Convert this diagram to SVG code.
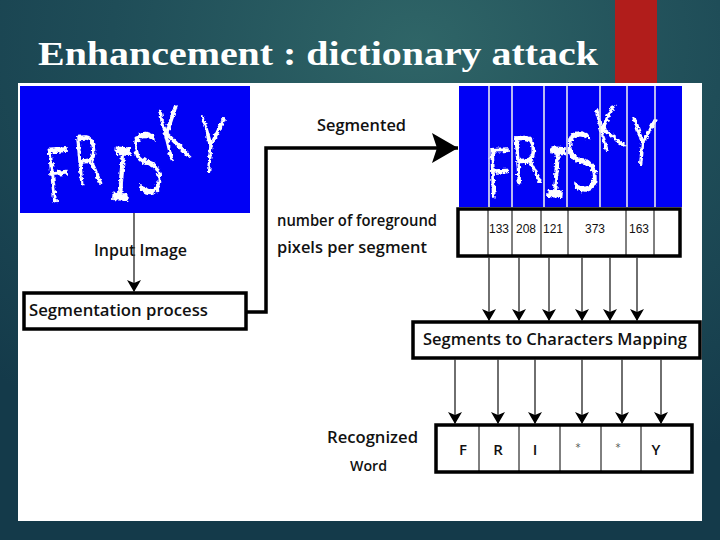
<svg xmlns="http://www.w3.org/2000/svg" width="720" height="540" viewBox="0 0 720 540">
  <defs>
    <radialGradient id="bg" cx="0.58" cy="0.08" r="0.85">
      <stop offset="0" stop-color="#2f6567"/>
      <stop offset="0.5" stop-color="#1f4d58"/>
      <stop offset="1" stop-color="#143a4a"/>
    </radialGradient>
    <filter id="rough" x="-10%" y="-10%" width="120%" height="120%">
      <feTurbulence type="fractalNoise" baseFrequency="0.3" numOctaves="2" seed="3" result="n"/>
      <feDisplacementMap in="SourceGraphic" in2="n" scale="5" xChannelSelector="R" yChannelSelector="G"/>
    </filter>
    <marker id="ah" viewBox="0 0 12 14" refX="12" refY="7" markerWidth="12" markerHeight="14" markerUnits="userSpaceOnUse" orient="auto">
      <path d="M0,0 L12,7 L0,14 L3,7 Z" fill="#000"/>
    </marker>
    <marker id="ahBig" viewBox="0 0 26 30" refX="26" refY="15" markerWidth="26" markerHeight="30" markerUnits="userSpaceOnUse" orient="auto">
      <path d="M0,0 L26,15 L0,30 L5,15 Z" fill="#000"/>
    </marker>
    <style>
      .lbl { font-family: "Open Sans", "DejaVu Sans", sans-serif; font-weight: 600; fill: #111; }
      .num { font-family: "Liberation Sans Narrow", "Liberation Sans", sans-serif; font-size: 12px; fill: #111; }
      .chr { font-family: "Open Sans", "DejaVu Sans", sans-serif; font-weight: 600; font-size: 15px; fill: #111; }
      .ast { font-family: "DejaVu Sans", sans-serif; font-size: 10px; fill: #555; }
      .box { fill: #fff; stroke: #000; stroke-width: 3.5; }
      .div { stroke: #000; stroke-width: 1; }
      .seg { stroke: #e8e8f0; stroke-width: 1.6; }
      .thin { stroke: #333; stroke-width: 1.4; fill: none; marker-end: url(#ah); }
      .cap { font-family: "DejaVu Sans", sans-serif; font-weight: 200; font-size: 80px; fill: #fff; stroke: #fff; stroke-width: 2.2; }
      .capi { font-family: "Liberation Mono", monospace; font-weight: 400; font-size: 80px; fill: #fff; stroke: #fff; stroke-width: 1.5; }
    </style>
  </defs>

  <rect x="0" y="0" width="720" height="540" fill="url(#bg)"/>
  <rect x="615" y="0" width="42" height="90" fill="#b11d1b"/>
  <text x="38" y="65" font-family="Liberation Serif, serif" font-weight="bold" font-size="33" fill="#fff" textLength="560" lengthAdjust="spacingAndGlyphs">Enhancement : dictionary attack</text>

  <rect x="18" y="83" width="684" height="438" fill="#fff"/>

  <g id="input-image">
    <rect x="20" y="86" width="230" height="127" fill="#0000f5"/>
    <g filter="url(#rough)">
      <text class="cap" transform="translate(48,202) rotate(-6) scale(0.6,0.89)">F</text>
      <text class="cap" transform="translate(76,185) rotate(-5) scale(0.5,0.82)">R</text>
      <text class="capi" transform="translate(109,199) rotate(4) scale(0.45,0.99)">I</text>
      <text class="cap" transform="translate(137,194) rotate(-8) scale(0.58,1.0)">S</text>
      <text class="cap" transform="translate(164,162) rotate(-14) scale(0.52,0.87)">K</text>
      <text class="cap" transform="translate(196,170) rotate(5) scale(0.52,0.91)">Y</text>
    </g>
  </g>

  <g id="segmented-image">
    <rect x="459" y="86" width="223" height="121" fill="#0000f5"/>
    <g filter="url(#rough)">
      <text class="cap" transform="translate(487,198) rotate(-2) scale(0.58,0.84)">F</text>
      <text class="cap" transform="translate(513,184) rotate(-4) scale(0.55,0.8)">R</text>
      <text class="capi" transform="translate(544,196) rotate(4) scale(0.45,0.94)">I</text>
      <text class="cap" transform="translate(572,192) rotate(-10) scale(0.6,0.97)">S</text>
      <text class="cap" transform="translate(598,152) rotate(-14) scale(0.55,0.7)">K</text>
      <text class="cap" transform="translate(628,164) rotate(5) scale(0.52,0.79)">Y</text>
    </g>
    <line class="seg" x1="489" y1="86" x2="489" y2="207"/>
    <line class="seg" x1="512" y1="86" x2="512" y2="207"/>
    <line class="seg" x1="544" y1="86" x2="544" y2="207"/>
    <line class="seg" x1="567" y1="86" x2="567" y2="207"/>
    <line class="seg" x1="600" y1="86" x2="600" y2="207"/>
    <line class="seg" x1="627" y1="86" x2="627" y2="207"/>
    <line class="seg" x1="655" y1="86" x2="655" y2="207"/>
  </g>

  <g id="segmentation-process">
    <rect class="box" x="24" y="293" width="222" height="36"/>
    <text class="lbl" x="29" y="316" font-size="16" textLength="179" lengthAdjust="spacingAndGlyphs">Segmentation process</text>
  </g>

  <g id="pixel-counts">
    <rect class="box" x="458" y="209" width="222" height="47"/>
    <line class="div" x1="488" y1="209" x2="488" y2="256"/>
    <line class="div" x1="512" y1="209" x2="512" y2="256"/>
    <line class="div" x1="541" y1="209" x2="541" y2="256"/>
    <line class="div" x1="568" y1="209" x2="568" y2="256"/>
    <line class="div" x1="626" y1="209" x2="626" y2="256"/>
    <line class="div" x1="654" y1="209" x2="654" y2="256"/>
    <text class="num" x="499" y="233" text-anchor="middle">133</text>
    <text class="num" x="526" y="233" text-anchor="middle">208</text>
    <text class="num" x="553" y="233" text-anchor="middle">121</text>
    <text class="num" x="595" y="233" text-anchor="middle">373</text>
    <text class="num" x="639" y="233" text-anchor="middle">163</text>
  </g>

  <g id="mapping">
    <rect class="box" x="413" y="322" width="287" height="36"/>
    <text class="lbl" x="423" y="345" font-size="17" textLength="264" lengthAdjust="spacingAndGlyphs">Segments to Characters Mapping</text>
  </g>

  <g id="recognized-word">
    <rect class="box" x="436" y="425" width="256" height="47"/>
    <line class="div" x1="479" y1="425" x2="479" y2="472"/>
    <line class="div" x1="519" y1="425" x2="519" y2="472"/>
    <line class="div" x1="560" y1="425" x2="560" y2="472"/>
    <line class="div" x1="601" y1="425" x2="601" y2="472"/>
    <line class="div" x1="641" y1="425" x2="641" y2="472"/>
    <text class="chr" x="463" y="455" text-anchor="middle">F</text>
    <text class="chr" x="498" y="455" text-anchor="middle">R</text>
    <text class="chr" x="535" y="455" text-anchor="middle">I</text>
    <text class="ast" x="578" y="451" text-anchor="middle">*</text>
    <text class="ast" x="618" y="451" text-anchor="middle">*</text>
    <text class="chr" x="656" y="455" text-anchor="middle">Y</text>
  </g>

  <g id="labels">
    <text class="lbl" x="94" y="256" font-size="17" textLength="93" lengthAdjust="spacingAndGlyphs">Input Image</text>
    <text class="lbl" x="317" y="131" font-size="17" textLength="89" lengthAdjust="spacingAndGlyphs">Segmented</text>
    <text class="lbl" x="277" y="226" font-size="16" textLength="160" lengthAdjust="spacingAndGlyphs">number of foreground</text>
    <text class="lbl" x="277" y="253" font-size="16" textLength="150" lengthAdjust="spacingAndGlyphs">pixels per segment</text>
    <text class="lbl" x="327" y="443" font-size="17" textLength="91" lengthAdjust="spacingAndGlyphs">Recognized</text>
    <text class="lbl" x="350" y="471" font-size="15" textLength="37" lengthAdjust="spacingAndGlyphs">Word</text>
  </g>

  <g id="connectors">
    <line class="thin" x1="134" y1="213" x2="134" y2="292"/>
    <polyline points="246,312 266,312 266,148 458,148" fill="none" stroke="#000" stroke-width="3.5" marker-end="url(#ahBig)"/>
    <line class="thin" x1="489" y1="257" x2="489" y2="321"/>
    <line class="thin" x1="519" y1="257" x2="519" y2="321"/>
    <line class="thin" x1="549" y1="257" x2="549" y2="321"/>
    <line class="thin" x1="582" y1="257" x2="582" y2="321"/>
    <line class="thin" x1="610" y1="257" x2="610" y2="321"/>
    <line class="thin" x1="637" y1="257" x2="637" y2="321"/>
    <line class="thin" x1="455" y1="359" x2="455" y2="424"/>
    <line class="thin" x1="498" y1="359" x2="498" y2="424"/>
    <line class="thin" x1="535" y1="359" x2="535" y2="424"/>
    <line class="thin" x1="582" y1="359" x2="582" y2="424"/>
    <line class="thin" x1="622" y1="359" x2="622" y2="424"/>
    <line class="thin" x1="661" y1="359" x2="661" y2="424"/>
  </g>
</svg>
